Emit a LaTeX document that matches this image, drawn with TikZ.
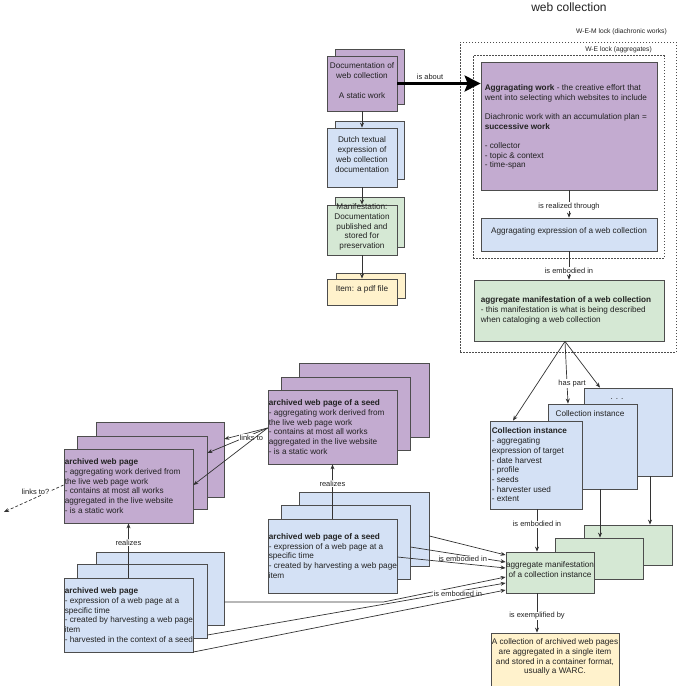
\documentclass[tikz,border=0pt]{standalone}
\usepackage{fontspec}
\setmainfont{Liberation Sans}
\usetikzlibrary{arrows.meta,fit,calc}
\definecolor{purp}{HTML}{C3ABD0}
\definecolor{blu}{HTML}{D4E1F5}
\definecolor{grn}{HTML}{D5E8D4}
\definecolor{yel}{HTML}{FFF2CC}
\definecolor{strk}{HTML}{4D4D4D}
\definecolor{txtc}{HTML}{222222}
\definecolor{lnc}{HTML}{333333}
\newcommand{\bodyf}{\fontsize{8.2}{9.7}\selectfont}
\newcommand{\lblf}{\fontsize{7.5}{9}\selectfont}
\newcommand{\lockf}{\fontsize{6.7}{8}\selectfont}
\begin{document}
\begin{tikzpicture}[x=1pt,y=-1pt,
  box/.style={draw=strk, line width=0.8pt, inner sep=0pt, text=txtc, font=\bodyf, align=center},
  pbox/.style={box, fill=purp},
  bbox/.style={box, fill=blu},
  gbox/.style={box, fill=grn},
  ybox/.style={box, fill=yel},
  txt/.style={text=txtc, font=\bodyf, align=left, inner sep=0pt},
  conn/.style={draw=lnc, line width=0.7pt, -{Stealth[length=5pt,width=4pt]}},
  elbl/.style={fill=white, text=txtc, font=\lblf, inner sep=0.8pt},
  lockbox/.style={draw=strk, line width=0.7pt, dash pattern=on 1.5pt off 1.5pt, inner sep=0pt},
  locklbl/.style={text=txtc, font=\lockf, inner sep=0pt},
]
\path[use as bounding box, fill=white] (0,0) rectangle (677,686);

% title and lock labels
\node[text=txtc, font=\fontsize{12}{14}\selectfont, inner sep=0pt] (title) at (569,7.5) {web collection};
\node[lockbox, fit={(460,42)(676,352)}] (wemlock) {};
\node[lockbox, fit={(473,55.5)(664,258)}] (welock) {};
\node[locklbl, anchor=east] (wemlbl) at (667,32) {W-E-M lock (diachronic works)};
\node[locklbl, anchor=east] (welbl) at (652,50) {W-E lock (aggregates)};

% left column
\node[pbox, fit={(335,49)(404,104)}] (docb) {};
\node[pbox, fit={(327,56)(397,111)}] (docf) {Documentation of\\ web collection\\[9.7pt] A static work};
\node[bbox, fit={(335,121)(404,179)}] (dutchb) {};
\node[bbox, fit={(327,128)(397,187)}] (dutchf) {Dutch textual\\ expression of\\ web collection\\ documentation};
\node[gbox, fit={(335,197)(404,247)}] (manifb) {};
\node[gbox, fit={(327,205)(397,255)}] (maniff) {Manifestation:\\ Documentation\\ published and\\ stored for\\ preservation};
\node[ybox, fit={(336,273)(405,298)}] (itemb) {};
\node[ybox, fit={(327,279)(397,305)}] (itemf) {Item: a pdf file};

% aggregate column
\node[pbox, fit={(481,62)(657,190)}] (aggwork) {};
\node[txt, anchor=west] (aggworkt) at ($(aggwork.west)+(4,1)$) {\textbf{Aggragating work} - the creative effort that\\ went into selecting which websites to include\\[9.7pt] Diachronic work with an accumulation plan =\\ \textbf{successive work}\\[9.7pt] - collector\\ - topic \& context\\ - time-span};
\node[bbox, fit={(481,218)(657,251)}] (aggexpr) {Aggragating expression of a web collection};
\node[gbox, fit={(474,280)(664,341)}] (aggmanif) {};
\node[txt, anchor=west] (aggmanift) at ($(aggmanif.west)+(7,0)$) {\textbf{aggregate manifestation of a web collection}\\ - this manifestation is what is being described\\ when cataloging a web collection};

% collection instances
\node[bbox, fit={(584,388)(672,476)}] (ci3) {};
\node[txt] (ci3t) at (617,399) {. . .};
\node[bbox, fit={(548,404)(637,489)}] (ci2) {};
\node[txt] (ci2t) at (590,414) {Collection instance};
\node[bbox, fit={(490,421)(582,509)}] (ci1) {};
\node[txt, anchor=west] (ci1t) at ($(ci1.west)+(2,0)$) {\textbf{Collection instance}\\ - aggregating\\ expression of target\\ - date harvest\\ - profile\\ - seeds\\ - harvester used\\ - extent};

\node[gbox, fit={(584,525)(672,565)}] (aggci3) {};
\node[gbox, fit={(555,538)(643,579)}] (aggci2) {};
\node[gbox, fit={(506,552)(594,593)}] (aggci1) {aggregate manifestation\\ of a collection instance};
\node[ybox, fit={(491,633)(619,687)}] (warc) {A collection of archived web pages\\ are aggregated in a single item\\ and stored in a container format,\\ usually a WARC.};

% archived web page (left purple)
\node[pbox, fit={(96,422)(224,497)}] (lp3) {};
\node[pbox, fit={(77,436)(207,509)}] (lp2) {};
\node[pbox, fit={(64,449)(193,523)}] (lp1) {};
\node[txt, anchor=west] (lp1t) at ($(lp1.west)+(1,0)$) {\textbf{archived web page}\\ - aggregating work derived from\\ the live web page work\\ - contains at most all works\\ aggregated in the live website\\ - is a static work};

% archived web page of a seed (purple)
\node[pbox, fit={(299,363)(429,437)}] (sp3) {};
\node[pbox, fit={(281,377)(410,450)}] (sp2) {};
\node[pbox, fit={(268,390)(397,464)}] (sp1) {};
\node[txt, anchor=west] (sp1t) at ($(sp1.west)+(1,0)$) {\textbf{archived web page of a seed}\\ - aggregating work derived from\\ the live web page work\\ - contains at most all works\\ aggregated in the live website\\ - is a static work};

% archived web page of a seed (blue)
\node[bbox, fit={(299,492)(429,566)}] (sb3) {};
\node[bbox, fit={(281,505)(410,579)}] (sb2) {};
\node[bbox, fit={(268,519)(397,593)}] (sb1) {};
\node[txt, anchor=west] (sb1t) at ($(sb1.west)+(1,0)$) {\textbf{archived web page of a seed}\\ - expression of a web page at a\\ specific time\\ - created by harvesting a web page\\ item};

% archived web page (left blue)
\node[bbox, fit={(96,552)(224,625)}] (lb3) {};
\node[bbox, fit={(77,564)(207,638)}] (lb2) {};
\node[bbox, fit={(64,578)(193,652)}] (lb1) {};
\node[txt, anchor=west] (lb1t) at ($(lb1.west)+(1,0)$) {\textbf{archived web page}\\ - expression of a web page at a\\ specific time\\ - created by harvesting a web page\\ item\\ - harvested in the context of a seed};

% connectors: left column
\draw[conn] (docf.south) -- (dutchf.north);
\draw[conn] (dutchf.south) -- (maniff.north);
\draw[conn] (maniff.south) -- (itemf.north);
\draw[line width=2.6pt, draw=black, -{Stealth[length=16pt,width=16pt,inset=3pt]}] (docf.east) -- (docf.east -| aggwork.west);
\node[text=txtc, font=\lblf, inner sep=0pt] (aboutlbl) at (430,77) {is about};

% aggregate column
\draw[conn] (aggwork.south) -- node[elbl, pos=0.6] {is realized through} (aggexpr.north);
\draw[conn] (aggexpr.south) -- node[elbl, pos=0.69] {is embodied in} (aggmanif.north);
\coordinate (hp) at ($(aggmanif.south)+(-4,0)$);
\draw[conn] (hp) -- ($(ci1.north)+(-23,0)$);
\draw[conn] (hp) -- node[elbl, pos=0.68, xshift=5pt] {has part} ($(ci2.north)+(-24.5,0)$);
\draw[conn] (hp) -- ($(ci3.north)+(-28,0)$);

\draw[conn] ($(ci1.south)+(1,0)$) -- node[elbl, pos=0.35] {is embodied in} ($(aggci1.north)+(-13,0)$);
\draw[conn] ($(ci2.south)+(7.5,0)$) -- ($(aggci2.north)+(1,0)$);
\draw[conn] ($(ci3.south)+(22,0)$) -- ($(aggci3.north)+(22,0)$);
\draw[conn] ($(aggci1.south)+(-13,0)$) -- node[elbl, pos=0.575] {is exemplified by} ($(warc.north)+(-18,0)$);

% links to
\coordinate (lk) at ($(sp1.west)+(0,1)$);
\draw[conn] (lk) -- ($(lp3.east)+(0,-20.5)$);
\draw[conn] (lk) -- node[elbl, pos=0.27, yshift=-3pt] {links to} ($(lp2.east)+(0,-19.5)$);
\draw[conn] (lk) -- ($(lp1.east)+(0,-1)$);
\coordinate (lkq) at (4,512);
\draw[draw=lnc, line width=0.7pt, dash pattern=on 3pt off 2pt, -{Stealth[length=5pt,width=4pt]}] ($(lp1.west)+(0,-1)$) -- node[elbl, pos=0.47, yshift=6pt] {links to?} (lkq);

% realizes
\draw[conn] (lb1.north) -- node[elbl, pos=0.65] {realizes} (lp1.south);
\draw[conn] (sb1.north) -- node[elbl, pos=0.65] {realizes} (sp1.south);

% is embodied in (to aggregate manifestation of a collection instance)
\draw[conn] ($(sb3.east)+(0,7)$) -- ($(aggci1.west)+(0,-17.5)$);
\draw[conn] ($(sb2.east)+(0,5)$) -- node[elbl, pos=0.55, yshift=-4pt] {is embodied in} ($(aggci1.west)+(0,-10.5)$);
\draw[conn] ($(sb1.east)+(0,1)$) -- ($(aggci1.west)+(0,-4.5)$);
\draw[conn] ($(lb3.east)+(0,13.5)$) -- ++(159,0) -- ($(aggci1.west)+(0,4.5)$);
\draw[conn] ($(lb2.east)+(0,34)$) -- node[elbl, pos=0.84, yshift=-2.6pt] {is embodied in} ($(aggci1.west)+(0,10.5)$);
\draw[conn] ($(lb1.east)+(0,37)$) -- ($(aggci1.west)+(0,17.5)$);
\end{tikzpicture}
\end{document}
